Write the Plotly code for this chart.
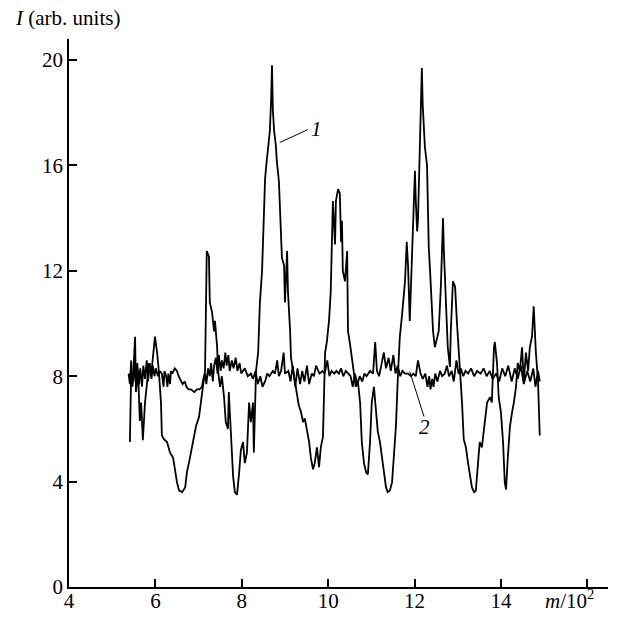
import plotly.graph_objects as go

# ---- data (m/10^2, I in arb. units) ----
m1 = [5.41, 5.44, 5.48, 5.53, 5.55, 5.60, 5.64, 5.67, 5.71, 5.76, 5.81, 5.85, 5.90, 5.94, 5.99, 6.04, 6.08, 6.13,
      6.15, 6.20, 6.27, 6.34, 6.41, 6.45, 6.50, 6.55, 6.62, 6.69, 6.73, 6.80, 6.87, 6.94, 7.01, 7.06, 7.10, 7.15,
      7.17, 7.19, 7.24, 7.26, 7.31, 7.36, 7.38, 7.43, 7.45, 7.50, 7.54, 7.59, 7.63, 7.68, 7.70, 7.75, 7.80, 7.84,
      7.89, 7.94, 7.98, 8.03, 8.07, 8.12, 8.17, 8.21, 8.26, 8.28, 8.33, 8.38, 8.40, 8.42, 8.47, 8.49, 8.51, 8.54,
      8.58, 8.61, 8.65, 8.68, 8.70, 8.72, 8.75, 8.79, 8.81, 8.86, 8.88, 8.93, 8.98, 9.00, 9.05, 9.07, 9.12, 9.14,
      9.19, 9.23, 9.28, 9.32, 9.37, 9.42, 9.46, 9.51, 9.56, 9.60, 9.65, 9.69, 9.74, 9.79, 9.83, 9.88,
      9.93, 9.97, 10.02, 10.06, 10.09, 10.11, 10.16, 10.18, 10.23, 10.27, 10.30, 10.32, 10.34, 10.39, 10.44,
      10.46, 10.50, 10.55, 10.60, 10.64, 10.69, 10.74, 10.78, 10.83, 10.88, 10.92, 10.97, 11.01, 11.06, 11.11,
      11.15, 11.20, 11.25, 11.29, 11.34, 11.38, 11.43, 11.48, 11.52, 11.57, 11.62, 11.66, 11.71, 11.75, 11.78,
      11.82, 11.85, 11.89, 11.94, 11.96, 12.01, 12.03, 12.06, 12.08, 12.13, 12.15, 12.17, 12.19, 12.24, 12.29,
      12.31, 12.33, 12.36, 12.40, 12.43, 12.47, 12.52, 12.56, 12.61, 12.66, 12.68, 12.73, 12.77, 12.82, 12.84,
      12.89, 12.94, 12.98, 13.03, 13.05, 13.10, 13.14, 13.19, 13.24, 13.28, 13.33, 13.38, 13.42, 13.47, 13.51,
      13.56, 13.63, 13.68, 13.75, 13.79, 13.84, 13.86, 13.91, 13.95, 14.00, 14.05, 14.09, 14.12, 14.16, 14.21,
      14.26, 14.30, 14.35, 14.39, 14.44, 14.49, 14.53, 14.58, 14.63, 14.67, 14.72, 14.76, 14.81, 14.86, 14.90]
I1 = [5.50, 8.17, 7.8, 9.5, 7.4, 8.2, 6.3, 7.0, 5.57, 7.0, 7.8, 8.5, 8.0, 8.7, 9.5, 8.9, 8.2, 7.0,
      5.76, 5.6, 5.5, 5.1, 4.9, 4.5, 3.97, 3.66, 3.6, 3.78, 4.35, 4.9, 5.5, 6.1, 6.45, 7.2, 7.6, 8.2,
      10.8, 12.75, 12.55, 10.8, 10.45, 9.7, 10.1, 9.1, 8.2, 7.6, 8.0, 7.2, 6.26, 6.0, 7.4, 5.5, 4.2, 3.6,
      3.5, 4.35, 5.2, 5.5, 4.7, 5.1, 7.0, 6.26, 7.0, 5.1, 8.2, 8.9, 10.1, 10.8, 12.0, 13.0, 14.3, 15.5,
      16.2, 16.7, 17.3, 18.5, 19.8, 18.1, 17.3, 16.75, 16.2, 15.4, 14.5, 12.5, 12.2, 10.8, 12.75, 11.2, 9.7, 8.7,
      8.2, 7.8, 7.4, 6.9, 6.65, 6.26, 6.4, 5.9, 5.5, 4.9, 4.47, 4.7, 5.3, 4.55, 5.3, 5.7,
      8.9, 9.3, 10.1, 11.2, 12.75, 14.65, 13.0, 14.65, 15.1, 14.95, 13.1, 13.9, 12.0, 11.6, 12.75,
      9.7, 9.3, 8.7, 8.0, 7.6, 7.8, 7.0, 5.5, 4.7, 4.35, 4.27, 5.5, 7.0, 7.6, 6.8,
      5.9, 5.5, 4.9, 4.27, 3.78, 3.6, 3.66, 3.97, 5.1, 6.1, 8.2, 9.5, 10.3, 11.2, 11.6,
      13.1, 12.2, 10.1, 12.75, 13.3, 15.8, 14.65, 13.5, 13.9, 16.7, 18.1, 19.7, 18.3, 16.7, 16.0,
      14.1, 12.9, 12.0, 10.8, 9.7, 9.1, 9.5, 9.7, 11.4, 14.0, 12.75, 10.8, 9.1, 8.35, 9.7,
      11.6, 11.4, 10.1, 8.9, 8.2, 7.0, 5.6, 5.3, 4.7, 4.35, 3.78, 3.6, 3.66, 4.7, 5.5,
      5.3, 6.26, 7.0, 7.2, 7.0, 9.1, 9.3, 8.5, 7.2, 6.65, 5.5, 3.97, 3.7, 4.9, 6.1,
      6.65, 7.0, 7.6, 8.5, 8.2, 9.1, 7.8, 8.9, 8.2, 9.1, 9.5, 10.65, 8.9, 7.8, 5.75]

m2 = [5.38, 5.41, 5.44, 5.47, 5.51, 5.54, 5.58, 5.62, 5.65, 5.69, 5.72, 5.76, 5.80, 5.83, 5.87, 5.91, 5.94, 5.98,
      6.01, 6.06, 6.10, 6.15, 6.19, 6.21, 6.25, 6.28, 6.30, 6.34, 6.36, 6.39, 6.45, 6.50, 6.54, 6.57, 6.63, 6.68,
      6.72, 6.77, 6.82, 6.90, 6.96, 7.02, 7.08, 7.11, 7.15, 7.18, 7.22, 7.26, 7.29, 7.33, 7.36, 7.40, 7.44, 7.47,
      7.51, 7.54, 7.58, 7.62, 7.65, 7.69, 7.72, 7.77, 7.81, 7.86, 7.90, 7.95, 7.99, 8.07, 8.14, 8.21, 8.26, 8.32,
      8.37, 8.43, 8.48, 8.54, 8.59, 8.64, 8.72, 8.77, 8.82, 8.86, 8.91, 8.97, 9.00, 9.08, 9.13, 9.18, 9.24, 9.29,
      9.35, 9.40, 9.45, 9.51, 9.56, 9.62, 9.67, 9.72, 9.80, 9.87, 9.92, 9.98, 10.03, 10.08, 10.14,
      10.19, 10.25, 10.30, 10.35, 10.41, 10.46, 10.52, 10.57, 10.62, 10.68, 10.73, 10.79, 10.84, 10.89, 10.97,
      11.04, 11.09, 11.13, 11.18, 11.24, 11.29, 11.34, 11.40, 11.45, 11.51, 11.56, 11.61, 11.67, 11.72, 11.78,
      11.85, 11.92, 11.97, 12.03, 12.08, 12.14, 12.19, 12.25, 12.30, 12.34, 12.37, 12.41, 12.44, 12.48, 12.53,
      12.59, 12.64, 12.70, 12.75, 12.80, 12.86, 12.91, 12.97, 13.02, 13.07, 13.13, 13.18, 13.24, 13.31, 13.38,
      13.45, 13.53, 13.60, 13.67, 13.74, 13.81, 13.89, 13.96, 14.03, 14.10, 14.17, 14.25, 14.32, 14.39, 14.46,
      14.53, 14.61, 14.68, 14.75, 14.80, 14.86, 14.90]
I2 = [8.1, 7.7, 8.6, 7.6, 8.4, 7.8, 8.5, 7.7, 8.3, 7.6, 8.4, 7.9, 8.6, 7.8, 8.5, 7.9, 8.4, 8.0,
      8.3, 8.0, 8.2, 8.1, 7.6, 8.2, 8.0, 7.6, 8.1, 7.7, 8.2, 8.1, 8.3, 8.2, 8.0, 7.9, 7.7, 7.8,
      7.6, 7.5, 7.5, 7.4, 7.5, 7.5, 7.6, 7.9, 8.1, 7.7, 8.3, 8.0, 8.5, 7.8, 8.4, 8.7, 8.1, 8.8,
      8.2, 8.6, 8.3, 8.9, 8.4, 8.8, 8.2, 8.6, 8.3, 8.7, 8.2, 8.5, 8.1, 8.3, 8.0, 8.1, 7.9, 8.2,
      7.7, 8.0, 7.6, 7.8, 8.1, 8.0, 8.2, 8.1, 8.6, 8.0, 8.2, 8.9, 8.1, 8.2, 7.8, 8.4, 7.6, 8.3,
      7.7, 8.2, 7.8, 8.4, 7.7, 8.1, 8.0, 8.4, 8.1, 8.2, 8.1, 8.6, 8.0, 8.2, 8.1,
      8.2, 8.1, 8.3, 8.0, 8.2, 8.1, 8.0, 7.6, 8.1, 7.7, 8.0, 7.8, 8.1, 8.0, 8.2,
      8.1, 9.3, 8.2, 8.0, 8.5, 8.9, 8.3, 8.7, 8.2, 8.8, 8.1, 8.4, 8.0, 8.2, 8.1,
      8.1, 8.0, 8.1, 8.0, 8.6, 8.1, 7.9, 8.1, 7.6, 8.0, 7.5, 7.9, 7.6, 8.1, 7.8,
      8.2, 8.0, 8.1, 8.4, 8.0, 8.2, 7.8, 8.6, 8.1, 8.3, 8.0, 8.2, 8.1, 8.3, 8.0,
      8.2, 8.1, 8.3, 8.0, 8.2, 7.9, 8.1, 7.8, 8.3, 8.0, 8.4, 7.8, 8.3, 7.9, 8.4,
      7.7, 8.2, 7.8, 8.3, 7.6, 8.2, 7.8]

x_ticks = [4, 6, 8, 10, 12, 14]
x_minor_ticks = [16]
y_ticks = [0, 4, 8, 12, 16, 20]

FONT = "Liberation Serif"
FS = 21

fig = go.Figure()
fig.add_trace(go.Scatter(x=m1, y=I1, mode="lines", line=dict(color="black", width=1.8), showlegend=False))
fig.add_trace(go.Scatter(x=m2, y=I2, mode="lines", line=dict(color="black", width=1.8), showlegend=False))

# curve labels with leader lines
fig.add_shape(type="line", x0=8.88, y0=16.87, x1=9.53, y1=17.36, line=dict(color="black", width=1))
fig.add_shape(type="line", x0=11.89, y0=8.18, x1=12.22, y1=6.47, line=dict(color="black", width=1))
fig.add_annotation(x=9.72, y=17.4, text="<i>1</i>", showarrow=False,
                   font=dict(family=FONT, size=FS, color="black"))
fig.add_annotation(x=12.24, y=6.09, text="<i>2</i>", showarrow=False,
                   font=dict(family=FONT, size=FS, color="black"))
# axis titles
fig.add_annotation(xref="paper", yref="paper", x=-0.104, y=1.038, text="<i>I</i> (arb. units)",
                   showarrow=False, xanchor="left", yanchor="middle",
                   font=dict(family=FONT, size=FS, color="black"))
fig.add_annotation(xref="paper", yref="paper", x=0.88, y=-0.022, text="<i>m</i>/10<sup>2</sup>",
                   showarrow=False, xanchor="left", yanchor="middle",
                   font=dict(family=FONT, size=FS, color="black"))

axis_common = dict(showgrid=False, zeroline=False, showline=True, linecolor="black", linewidth=1.5,
                   ticks="inside", ticklen=8, tickwidth=1.5, tickcolor="black", automargin=False,
                   tickfont=dict(family=FONT, size=FS, color="black"))
fig.update_layout(
    width=620, height=617,
    margin=dict(l=69, r=12, t=39, b=30),
    paper_bgcolor="white", plot_bgcolor="white",
    xaxis=dict(range=[4, 16.48], tickmode="array", tickvals=x_ticks, ticklabelstandoff=-6,
               minor=dict(tickmode="array", tickvals=x_minor_ticks, ticks="inside", ticklen=8,
                          tickwidth=1.5, tickcolor="black"),
               **axis_common),
    yaxis=dict(range=[0, 20.8], tickmode="array", tickvals=y_ticks, **axis_common),
)
fig.write_html("out.html")
